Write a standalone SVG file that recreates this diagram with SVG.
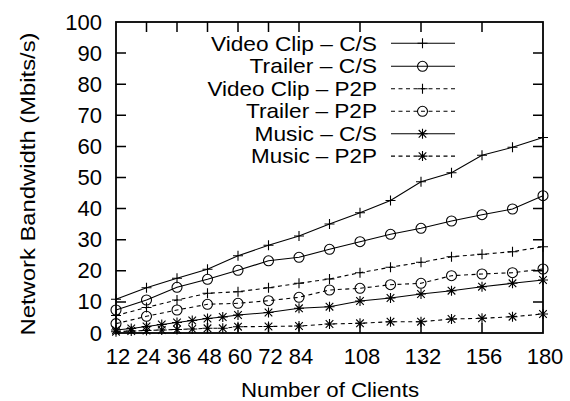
<svg xmlns="http://www.w3.org/2000/svg" xmlns:xlink="http://www.w3.org/1999/xlink" width="570" height="401" viewBox="0 0 570 401">
<style>
text{font-family:"Liberation Sans",Arial,sans-serif;font-size:21px;fill:#000}
.tick{font-size:22px}
.yl{text-anchor:end}
.xl{text-anchor:middle}
.frame{fill:none;stroke:#000;stroke-width:1.8}
.tk{stroke:#000;stroke-width:1.5;fill:none}
.s{fill:none;stroke:#000;stroke-width:1.1}
.d{fill:none;stroke:#000;stroke-width:1.1;stroke-dasharray:4 3.5}
.m{fill:none;stroke:#000;stroke-width:1.1}
</style>
<defs>
<path id="p" class="m" d="M-5,0H5M0,-5V5"/>
<circle id="o" class="m" r="5"/>
<path id="st" class="m" d="M-5,0H5M0,-5V5M-3.8,-3.8L3.8,3.8M-3.8,3.8L3.8,-3.8"/>
</defs>
<g id="axes">
<rect class="frame" x="116" y="22" width="427" height="311"/>
<path class="tk" d="M116,301.9h10M116,270.8h10M116,239.7h10M116,208.6h10M116,177.5h10M116,146.4h10M116,115.3h10M116,84.2h10M116,53.1h10M543,301.9h-10M543,270.8h-10M543,239.7h-10M543,208.6h-10M543,177.5h-10M543,146.4h-10M543,115.3h-10M543,84.2h-10M543,53.1h-10M146.5,333v-10M177,333v-10M207.5,333v-10M238,333v-10M268.5,333v-10M299,333v-10M360,333v-10M421,333v-10M482,333v-10M146.5,22v10M177,22v10M207.5,22v10M238,22v10M268.5,22v10M299,22v10M360,22v10M421,22v10M482,22v10"/>
</g>
<g id="ytick-labels" class="tick">
<text class="yl tick" x="102" y="340.5">0</text>
<text class="yl tick" x="102" y="309.4">10</text>
<text class="yl tick" x="102" y="278.3">20</text>
<text class="yl tick" x="102" y="247.2">30</text>
<text class="yl tick" x="102" y="216.1">40</text>
<text class="yl tick" x="102" y="185">50</text>
<text class="yl tick" x="102" y="153.9">60</text>
<text class="yl tick" x="102" y="122.8">70</text>
<text class="yl tick" x="102" y="91.7">80</text>
<text class="yl tick" x="102" y="60.6">90</text>
<text class="yl tick" x="102" y="29.5">100</text>
</g>
<g id="xtick-labels">
<text class="xl tick" x="118" y="363.5">12</text>
<text class="xl tick" x="148.5" y="363.5">24</text>
<text class="xl tick" x="179" y="363.5">36</text>
<text class="xl tick" x="209.5" y="363.5">48</text>
<text class="xl tick" x="240" y="363.5">60</text>
<text class="xl tick" x="270.5" y="363.5">72</text>
<text class="xl tick" x="301" y="363.5">84</text>
<text class="xl tick" x="362" y="363.5">108</text>
<text class="xl tick" x="423" y="363.5">132</text>
<text class="xl tick" x="484" y="363.5">156</text>
<text class="xl tick" x="545" y="363.5">180</text>
</g>
<g id="titles">
<text class="xl" x="330" y="397" textLength="178" lengthAdjust="spacingAndGlyphs">Number of Clients</text>
<text class="xl" transform="translate(35,184) rotate(-90)" textLength="303" lengthAdjust="spacingAndGlyphs">Network Bandwidth (Mbits/s)</text>
</g>
<g id="legend">
<text class="yl" x="377" y="50.7" textLength="166" lengthAdjust="spacingAndGlyphs">Video Clip – C/S</text>
<text class="yl" x="377" y="73.2" textLength="127.5" lengthAdjust="spacingAndGlyphs">Trailer – C/S</text>
<text class="yl" x="377" y="95.7" textLength="169.5" lengthAdjust="spacingAndGlyphs">Video Clip – P2P</text>
<text class="yl" x="377" y="118.2" textLength="131" lengthAdjust="spacingAndGlyphs">Trailer – P2P</text>
<text class="yl" x="377" y="140.7" textLength="122.5" lengthAdjust="spacingAndGlyphs">Music – C/S</text>
<text class="yl" x="377" y="163.2" textLength="126" lengthAdjust="spacingAndGlyphs">Music – P2P</text>
<path class="s" d="M391,43.3H455"/><use xlink:href="#p" x="422.5" y="43.3"/>
<path class="s" d="M391,66.3H455"/><use xlink:href="#o" x="422.5" y="66.3"/>
<path class="d" d="M391,88.8H455"/><use xlink:href="#p" x="422.5" y="88.8"/>
<path class="d" d="M391,111.3H455"/><use xlink:href="#o" x="422.5" y="111.3"/>
<path class="s" d="M391,133.8H455"/><use xlink:href="#st" x="422.5" y="133.8"/>
<path class="d" d="M391,156.1H455"/><use xlink:href="#st" x="422.5" y="156.1"/>
</g>
<g id="connectors">
<polyline id="video-cs" class="s" points="116,299.3 146.5,287.7 177,278.3 207.5,269.3 238,255.8 268.5,245.3 299,236 329.5,224 360,212.7 390.5,200.5 421,181.7 451.5,172.7 482,155.3 512.5,147.3 543,137.5"/>
<polyline id="trailer-cs" class="s" points="116,310 146.5,300 177,287.3 207.5,279.3 238,270.3 268.5,260.8 299,257.3 329.5,249.3 360,241.7 390.5,234.3 421,228.3 451.5,221 482,214.7 512.5,209 543,195.7"/>
<polyline id="video-p2p" class="d" points="116,315.5 146.5,307.5 177,300 207.5,293.3 238,291.7 268.5,287.8 299,283.3 329.5,279 360,272.7 390.5,267.2 421,262.3 451.5,256.7 482,254.3 512.5,251.7 543,246.7"/>
<polyline id="trailer-p2p" class="d" points="116,323.6 146.5,316.3 177,310 207.5,304.3 238,303.3 268.5,300.7 299,297.3 329.5,290 360,288.3 390.5,284.7 421,283.3 451.5,275.7 482,274 512.5,272.7 543,269"/>
<polyline id="music-cs" class="s" points="116,330 131.25,328.5 146.5,326.5 161.75,324.5 177,322.5 192.25,320.5 207.5,318.5 222.75,317 238,315 268.5,312.5 299,308.3 329.5,306.7 360,301 390.5,298 421,294 451.5,290.7 482,286.7 512.5,283.3 543,280"/>
<polyline id="music-p2p" class="d" points="116,331.7 131.25,331 146.5,330.5 161.75,330 177,329.5 192.25,329 207.5,328.3 222.75,328.3 238,326.7 268.5,326.5 299,326 329.5,324 360,323.3 390.5,321.7 421,321.7 451.5,319 482,318.3 512.5,316.7 543,314"/>
</g>
<g id="markers">
<g id="video-cs-pts">
<use xlink:href="#p" x="116" y="299.3"/><use xlink:href="#p" x="146.5" y="287.7"/><use xlink:href="#p" x="177" y="278.3"/><use xlink:href="#p" x="207.5" y="269.3"/><use xlink:href="#p" x="238" y="255.8"/><use xlink:href="#p" x="268.5" y="245.3"/><use xlink:href="#p" x="299" y="236"/><use xlink:href="#p" x="329.5" y="224"/><use xlink:href="#p" x="360" y="212.7"/><use xlink:href="#p" x="390.5" y="200.5"/><use xlink:href="#p" x="421" y="181.7"/><use xlink:href="#p" x="451.5" y="172.7"/><use xlink:href="#p" x="482" y="155.3"/><use xlink:href="#p" x="512.5" y="147.3"/><use xlink:href="#p" x="543" y="137.5"/>
</g>
<g id="trailer-cs-pts">
<use xlink:href="#o" x="116" y="310"/><use xlink:href="#o" x="146.5" y="300"/><use xlink:href="#o" x="177" y="287.3"/><use xlink:href="#o" x="207.5" y="279.3"/><use xlink:href="#o" x="238" y="270.3"/><use xlink:href="#o" x="268.5" y="260.8"/><use xlink:href="#o" x="299" y="257.3"/><use xlink:href="#o" x="329.5" y="249.3"/><use xlink:href="#o" x="360" y="241.7"/><use xlink:href="#o" x="390.5" y="234.3"/><use xlink:href="#o" x="421" y="228.3"/><use xlink:href="#o" x="451.5" y="221"/><use xlink:href="#o" x="482" y="214.7"/><use xlink:href="#o" x="512.5" y="209"/><use xlink:href="#o" x="543" y="195.7"/>
</g>
<g id="video-p2p-pts">
<use xlink:href="#p" x="116" y="315.5"/><use xlink:href="#p" x="146.5" y="307.5"/><use xlink:href="#p" x="177" y="300"/><use xlink:href="#p" x="207.5" y="293.3"/><use xlink:href="#p" x="238" y="291.7"/><use xlink:href="#p" x="268.5" y="287.8"/><use xlink:href="#p" x="299" y="283.3"/><use xlink:href="#p" x="329.5" y="279"/><use xlink:href="#p" x="360" y="272.7"/><use xlink:href="#p" x="390.5" y="267.2"/><use xlink:href="#p" x="421" y="262.3"/><use xlink:href="#p" x="451.5" y="256.7"/><use xlink:href="#p" x="482" y="254.3"/><use xlink:href="#p" x="512.5" y="251.7"/><use xlink:href="#p" x="543" y="246.7"/>
</g>
<g id="trailer-p2p-pts">
<use xlink:href="#o" x="116" y="323.6"/><use xlink:href="#o" x="146.5" y="316.3"/><use xlink:href="#o" x="177" y="310"/><use xlink:href="#o" x="207.5" y="304.3"/><use xlink:href="#o" x="238" y="303.3"/><use xlink:href="#o" x="268.5" y="300.7"/><use xlink:href="#o" x="299" y="297.3"/><use xlink:href="#o" x="329.5" y="290"/><use xlink:href="#o" x="360" y="288.3"/><use xlink:href="#o" x="390.5" y="284.7"/><use xlink:href="#o" x="421" y="283.3"/><use xlink:href="#o" x="451.5" y="275.7"/><use xlink:href="#o" x="482" y="274"/><use xlink:href="#o" x="512.5" y="272.7"/><use xlink:href="#o" x="543" y="269"/>
</g>
<g id="music-cs-pts">
<use xlink:href="#st" x="116" y="330"/><use xlink:href="#st" x="131.25" y="328.5"/><use xlink:href="#st" x="146.5" y="326.5"/><use xlink:href="#st" x="161.75" y="324.5"/><use xlink:href="#st" x="177" y="322.5"/><use xlink:href="#st" x="192.25" y="320.5"/><use xlink:href="#st" x="207.5" y="318.5"/><use xlink:href="#st" x="222.75" y="317"/><use xlink:href="#st" x="238" y="315"/><use xlink:href="#st" x="268.5" y="312.5"/><use xlink:href="#st" x="299" y="308.3"/><use xlink:href="#st" x="329.5" y="306.7"/><use xlink:href="#st" x="360" y="301"/><use xlink:href="#st" x="390.5" y="298"/><use xlink:href="#st" x="421" y="294"/><use xlink:href="#st" x="451.5" y="290.7"/><use xlink:href="#st" x="482" y="286.7"/><use xlink:href="#st" x="512.5" y="283.3"/><use xlink:href="#st" x="543" y="280"/>
</g>
<g id="music-p2p-pts">
<use xlink:href="#st" x="116" y="331.7"/><use xlink:href="#st" x="131.25" y="331"/><use xlink:href="#st" x="146.5" y="330.5"/><use xlink:href="#st" x="161.75" y="330"/><use xlink:href="#st" x="177" y="329.5"/><use xlink:href="#st" x="192.25" y="329"/><use xlink:href="#st" x="207.5" y="328.3"/><use xlink:href="#st" x="222.75" y="328.3"/><use xlink:href="#st" x="238" y="326.7"/><use xlink:href="#st" x="268.5" y="326.5"/><use xlink:href="#st" x="299" y="326"/><use xlink:href="#st" x="329.5" y="324"/><use xlink:href="#st" x="360" y="323.3"/><use xlink:href="#st" x="390.5" y="321.7"/><use xlink:href="#st" x="421" y="321.7"/><use xlink:href="#st" x="451.5" y="319"/><use xlink:href="#st" x="482" y="318.3"/><use xlink:href="#st" x="512.5" y="316.7"/><use xlink:href="#st" x="543" y="314"/>
</g>
</g>
</svg>
